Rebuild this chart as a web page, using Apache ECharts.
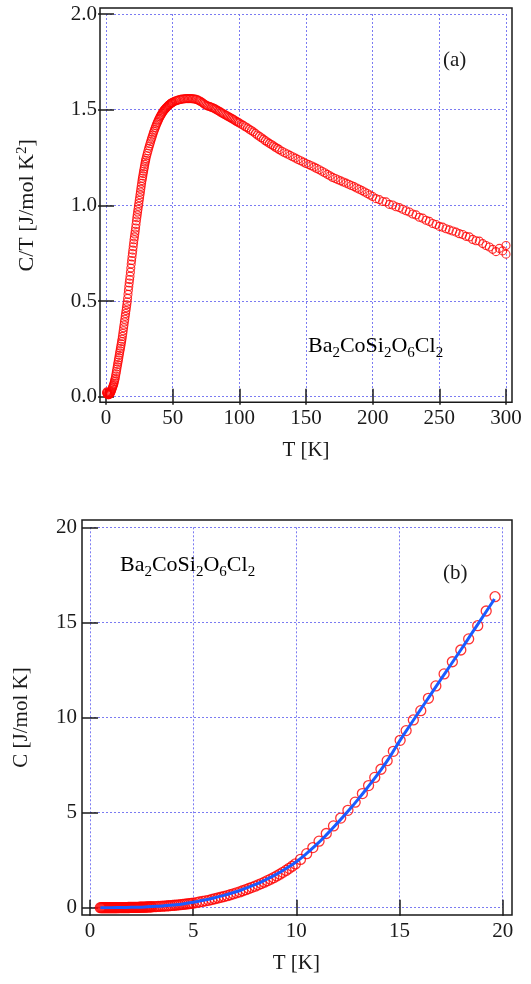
<!DOCTYPE html>
<html>
<head>
<meta charset="utf-8">
<title>Ba2CoSi2O6Cl2 specific heat</title>
<script src="https://cdn.jsdelivr.net/npm/echarts@6/dist/echarts.min.js"></script>
<style>
  html, body { margin: 0; padding: 0; background: #fff; }
  #chart { width: 531px; height: 984px; }
</style>
</head>
<body>
<div id="chart"></div>
<script>
// (a) C/T versus T, 0 - 300 K
const tempA = [
  0.4, 0.6, 0.8, 1.0, 1.3, 1.6, 2.0, 2.4, 2.7,
  3.0, 3.3, 3.6, 3.9, 4.2, 4.5, 4.8, 5.1, 5.4, 5.7, 6.0, 6.3, 6.6, 6.9, 7.2, 7.5, 7.8, 8.1, 8.4, 8.7,
  9.0, 9.3, 9.6, 9.9, 10.2, 10.5, 10.8, 11.1, 11.4, 11.7, 12.0, 12.3, 12.6, 12.9, 13.2, 13.5, 13.8, 14.1, 14.4, 14.7,
  15.0, 15.3, 15.6, 15.9, 16.2, 16.5, 16.8, 17.1, 17.4, 17.7, 18.0, 18.3, 18.6, 18.9, 19.2, 19.5, 19.8, 20.1, 20.4, 20.7,
  21.0, 21.3, 21.6, 21.9, 22.2, 22.5, 22.8, 23.1, 23.4, 23.7, 24.0, 24.3, 24.6, 24.9, 25.2, 25.5, 25.8, 26.1, 26.4, 26.7,
  27.0, 27.3, 27.6, 27.9, 28.2, 28.5, 28.8, 29.1, 29.4, 29.7, 30.0,
  30.5, 31, 31.5, 32, 32.5, 33, 33.5, 34, 34.5, 35, 35.5, 36, 36.5, 37, 37.5, 38, 38.5, 39, 39.5, 40,
  40.5, 41, 41.5, 42, 42.5, 43, 43.5, 44, 44.5, 45, 45.5, 46, 46.5, 47, 47.5, 48, 48.5, 49, 49.5, 50,
  51, 52, 53, 54, 55, 56, 57, 58, 59, 60, 61, 62, 63, 64, 65, 66, 67, 68, 69, 70,
  71, 72, 73, 74, 75, 76, 77, 78, 79, 80, 81, 82, 83, 84, 85, 86, 87, 88, 89, 90,
  91, 92, 93, 94, 95, 96, 97, 98, 99, 100,
  101.5, 103, 104.5, 106, 107.5, 109, 110.5, 112, 113.5, 115, 116.5, 118, 119.5, 121, 122.5, 124, 125.5, 127, 128.5, 130,
  132, 134, 136, 138, 140, 142, 144, 146, 148, 150, 152, 154, 156, 158, 160, 162, 164, 166, 168, 170,
  172, 174, 176, 178, 180, 182, 184, 186, 188, 190, 192, 194, 196, 198, 200,
  202.5, 205, 207.5, 210, 212.5, 215, 217.5, 220, 222.5, 225, 227.5, 230, 232.5, 235, 237.5, 240, 242.5, 245, 247.5, 250,
  252.5, 255, 257.5, 260, 262.5, 265, 267.5, 270, 272.5, 275, 277.5, 280, 282.5, 285, 287.5, 290, 292.5, 295, 297.5, 300, 300
];
const ctA = [
  0.020, 0.025, 0.020, 0.015, 0.012, 0.010, 0.010, 0.012, 0.014,
  0.016, 0.019, 0.023, 0.028, 0.034, 0.040, 0.046, 0.052, 0.058, 0.064, 0.070, 0.079, 0.088, 0.097, 0.108, 0.120, 0.132, 0.144, 0.156, 0.168,
  0.180, 0.192, 0.204, 0.216, 0.228, 0.240, 0.252, 0.264, 0.276, 0.288, 0.300, 0.315, 0.330, 0.345, 0.360, 0.375, 0.390, 0.405, 0.420, 0.435,
  0.450, 0.465, 0.480, 0.495, 0.514, 0.535, 0.556, 0.576, 0.594, 0.612, 0.630, 0.651, 0.672, 0.693, 0.712, 0.730, 0.748, 0.766, 0.784, 0.802,
  0.820, 0.835, 0.850, 0.865, 0.882, 0.900, 0.918, 0.935, 0.950, 0.965, 0.980, 0.995, 1.010, 1.025, 1.040, 1.055, 1.070, 1.085, 1.100, 1.115,
  1.130, 1.142, 1.154, 1.166, 1.178, 1.190, 1.202, 1.214, 1.225, 1.235, 1.245,
  1.259, 1.272, 1.285, 1.298, 1.310, 1.322, 1.334, 1.345, 1.356, 1.367, 1.378, 1.388, 1.398, 1.407, 1.416, 1.425, 1.433, 1.441, 1.449, 1.456,
  1.463, 1.469, 1.475, 1.481, 1.487, 1.492, 1.497, 1.501, 1.505, 1.509, 1.513, 1.516, 1.520, 1.523, 1.526, 1.529, 1.532, 1.534, 1.536, 1.538,
  1.542, 1.545, 1.548, 1.550, 1.552, 1.554, 1.555, 1.556, 1.557, 1.558, 1.558, 1.558, 1.558, 1.558, 1.557, 1.556, 1.555, 1.553, 1.550, 1.547,
  1.543, 1.538, 1.533, 1.528, 1.523, 1.520, 1.518, 1.516, 1.513, 1.510, 1.507, 1.503, 1.499, 1.495, 1.491, 1.487, 1.483, 1.479, 1.475, 1.471,
  1.467, 1.463, 1.459, 1.455, 1.451, 1.447, 1.442, 1.438, 1.434, 1.430,
  1.424, 1.418, 1.411, 1.405, 1.398, 1.391, 1.384, 1.376, 1.368, 1.361, 1.353, 1.346, 1.338, 1.331, 1.324, 1.318, 1.311, 1.304, 1.298, 1.291,
  1.283, 1.275, 1.268, 1.261, 1.254, 1.247, 1.240, 1.233, 1.226, 1.219, 1.213, 1.207, 1.200, 1.193, 1.186, 1.178, 1.170, 1.162, 1.154, 1.146,
  1.140, 1.134, 1.128, 1.122, 1.116, 1.110, 1.104, 1.098, 1.091, 1.084, 1.077, 1.070, 1.062, 1.054, 1.046,
  1.035, 1.030, 1.020, 1.018, 1.005, 1.002, 0.993, 0.988, 0.980, 0.972, 0.965, 0.955, 0.950, 0.938, 0.933, 0.922, 0.916, 0.905, 0.900, 0.890,
  0.886, 0.878, 0.872, 0.866, 0.860, 0.852, 0.848, 0.838, 0.835, 0.822, 0.815, 0.813, 0.800, 0.790, 0.782, 0.770, 0.758, 0.775, 0.762, 0.745, 0.790
];

// (b) C versus T below 20 K: measured points and fitted curve
const tempB = [
  0.50, 0.55, 0.60, 0.65, 0.70, 0.75, 0.80, 0.85, 0.90, 0.95, 1.00, 1.05, 1.10, 1.15, 1.20, 1.25, 1.30, 1.35, 1.40, 1.45,
  1.50, 1.55, 1.60, 1.65, 1.70, 1.75, 1.80, 1.85, 1.90, 1.95, 2.00, 2.05, 2.10, 2.15, 2.20, 2.25, 2.30, 2.35, 2.40, 2.45,
  2.50, 2.55, 2.60, 2.65, 2.70, 2.75, 2.80, 2.85, 2.90, 2.95, 3.00,
  3.10, 3.20, 3.30, 3.40, 3.50, 3.60, 3.70, 3.80, 3.90, 4.00, 4.10, 4.20, 4.30, 4.40, 4.50, 4.60, 4.70, 4.80, 4.90,
  5.0, 5.15, 5.3, 5.45, 5.6, 5.75, 5.9, 6.05, 6.2, 6.35, 6.5, 6.65, 6.8, 6.95, 7.1, 7.25, 7.4, 7.55, 7.7, 7.85,
  8.0, 8.15, 8.3, 8.45, 8.6, 8.75, 8.9, 9.05, 9.2, 9.35, 9.5, 9.65, 9.8, 9.95,
  10.2, 10.5, 10.8, 11.1, 11.45, 11.8, 12.15, 12.5, 12.85, 13.2, 13.5, 13.8, 14.1, 14.4, 14.7, 15.03,
  15.32, 15.67, 16.03, 16.40, 16.76, 17.16, 17.56, 17.97, 18.35, 18.79, 19.20, 19.63
];
const heatB = [
  0.000, 0.000, 0.000, 0.000, 0.000, 0.000, 0.000, 0.000, 0.000, 0.000, 0.001, 0.001, 0.001, 0.002, 0.002, 0.002, 0.003, 0.003, 0.004, 0.004,
  0.005, 0.005, 0.006, 0.007, 0.008, 0.008, 0.009, 0.010, 0.011, 0.012, 0.013, 0.014, 0.015, 0.016, 0.018, 0.019, 0.020, 0.022, 0.024, 0.025,
  0.027, 0.029, 0.031, 0.033, 0.035, 0.037, 0.040, 0.042, 0.045, 0.047, 0.050,
  0.055, 0.061, 0.067, 0.073, 0.080, 0.087, 0.095, 0.103, 0.111, 0.120, 0.130, 0.140, 0.150, 0.161, 0.173, 0.185, 0.198, 0.211, 0.225,
  0.240, 0.27, 0.30, 0.33, 0.36, 0.39, 0.43, 0.47, 0.51, 0.55, 0.59, 0.63, 0.68, 0.73, 0.78, 0.83, 0.89, 0.95, 1.01, 1.07,
  1.13, 1.20, 1.27, 1.34, 1.42, 1.50, 1.58, 1.67, 1.76, 1.86, 1.96, 2.07, 2.18, 2.30,
  2.54, 2.84, 3.16, 3.50, 3.90, 4.30, 4.71, 5.12, 5.55, 6.00, 6.42, 6.85, 7.28, 7.73, 8.22, 8.80,
  9.31, 9.87, 10.36, 11.01, 11.66, 12.29, 12.93, 13.55, 14.13, 14.83, 15.60, 16.35
];
const fitT = [0.5, 1, 1.5, 2, 2.5, 3, 3.5, 4, 4.5, 5, 5.5, 6, 6.5, 7, 7.5, 8, 8.5, 9, 9.5, 10,
  10.5, 11, 11.5, 12, 12.5, 13, 13.5, 14, 14.5, 15, 15.5, 16, 16.5, 17, 17.5, 18, 18.5, 19, 19.5, 19.6];
const fitC = [0.00, 0.00, 0.01, 0.02, 0.03, 0.06, 0.09, 0.14, 0.20, 0.29, 0.39, 0.51, 0.65, 0.81, 1.00, 1.21, 1.46, 1.74, 2.06, 2.42,
  2.86, 3.34, 3.88, 4.46, 5.07, 5.71, 6.39, 7.10, 7.88, 8.76, 9.58, 10.39, 11.19, 12.00, 12.80, 13.60, 14.42, 15.24, 16.06, 16.23];

const ticksA = { xMin: 0, xMax: 300, xStep: 50, yMin: 0, yMax: 2, yStep: 0.5 };
const ticksB = { xMin: 0, xMax: 20, xStep: 5, yMin: 0, yMax: 20, yStep: 5 };

const pairs = (xs, ys) => xs.map((x, i) => [x, ys[i]]);

const FONT = 'Liberation Serif';
const INK = '#1a1a1a';
const FS = 21;
const GRID_LINE = { show: true, lineStyle: { color: '#7b7bf2', width: 1, type: [2, 2] } };
const TICK = { show: true, inside: true, length: 8, lineStyle: { color: INK, width: 1.5 } };

function axisPair(gridIndex, t, which, offset, extra) {
  const isX = which === 'x';
  const main = Object.assign({
    gridIndex,
    type: 'value',
    min: isX ? t.xMin : t.yMin,
    max: isX ? t.xMax : t.yMax,
    interval: isX ? t.xStep : t.yStep,
    position: isX ? 'bottom' : 'left',
    offset,
    axisLine: { show: false },
    axisTick: TICK,
    splitLine: GRID_LINE,
    axisLabel: { color: INK, fontFamily: FONT, fontSize: FS },
    nameTextStyle: { color: INK, fontFamily: FONT, fontSize: FS }
  }, extra);
  const mirror = {
    gridIndex,
    type: 'value',
    min: main.min, max: main.max, interval: main.interval,
    position: isX ? 'top' : 'right',
    offset,
    axisLine: { show: false },
    axisTick: TICK,
    splitLine: { show: false },
    axisLabel: { show: false }
  };
  return [main, mirror];
}

const chart = echarts.init(document.getElementById('chart'), null, { renderer: 'canvas' });

const gridA = { left: 106, top: 14, width: 400, height: 382.7 };
const gridB = { left: 90, top: 527.3, width: 412.7, height: 380.4 };

const xA = axisPair(0, ticksA, 'x', 5.6, {
  name: 'T [K]', nameLocation: 'middle', nameGap: 38,
  axisLabel: { color: INK, fontFamily: FONT, fontSize: FS, margin: 6 }
});
const yA = axisPair(0, ticksA, 'y', 6, {
  name: '{n|C/T [J/mol K}{s|2}{n|]}', nameLocation: 'middle', nameGap: 60, nameRotate: 90,
  nameTextStyle: { rich: {
    n: { fontFamily: FONT, fontSize: 22, color: INK },
    s: { fontFamily: FONT, fontSize: 15, color: INK, verticalAlign: 'top', padding: [0, 0, 10, 0] }
  } },
  axisLabel: { color: INK, fontFamily: FONT, fontSize: FS, margin: 3, formatter: v => v.toFixed(1) }
});
const xB = axisPair(1, ticksB, 'x', 7.3, {
  name: 'T [K]', nameLocation: 'middle', nameGap: 38,
  axisLabel: { color: INK, fontFamily: FONT, fontSize: FS, margin: 6 }
});
const yB = axisPair(1, ticksB, 'y', 8, {
  name: 'C [J/mol K]', nameLocation: 'middle', nameGap: 50, nameRotate: 90,
  axisLabel: { color: INK, fontFamily: FONT, fontSize: FS, margin: 5 }
});

// chemical formula with lowered subscripts
function formula(left, top) {
  return {
    type: 'text', left, top, z: 10,
    style: {
      text: '{m|Ba}{s|2}{m|CoSi}{s|2}{m|O}{s|6}{m|Cl}{s|2}',
      rich: {
        m: { fontFamily: FONT, fontSize: 22, color: INK, verticalAlign: 'top' },
        s: { fontFamily: FONT, fontSize: 15, color: INK, verticalAlign: 'top', padding: [11, 0, 0, 0] }
      }
    }
  };
}

chart.setOption({
  animation: false,
  backgroundColor: '#ffffff',
  grid: [gridA, gridB],
  xAxis: [xA[0], xA[1], xB[0], xB[1]],
  yAxis: [yA[0], yA[1], yB[0], yB[1]],
  series: [
    {
      type: 'scatter', xAxisIndex: 0, yAxisIndex: 0,
      data: pairs(tempA, ctA),
      symbol: 'circle', symbolSize: 8,
      itemStyle: { color: 'rgba(0,0,0,0)', borderColor: '#ff0000', borderWidth: 1.1 }
    },
    {
      type: 'scatter', xAxisIndex: 2, yAxisIndex: 2,
      data: pairs(tempB, heatB),
      symbol: 'circle', symbolSize: 10,
      itemStyle: { color: 'rgba(0,0,0,0)', borderColor: '#ff0000', borderWidth: 1.3 }
    },
    {
      type: 'line', xAxisIndex: 2, yAxisIndex: 2,
      data: pairs(fitT, fitC),
      showSymbol: false, smooth: true, z: 5,
      lineStyle: { color: '#1a5cff', width: 3 }
    }
  ],
  graphic: [
    { type: 'rect', z: 20, silent: true, shape: { x: 100, y: 8, width: 412, height: 394.3 },
      style: { fill: 'none', stroke: INK, lineWidth: 1.5 } },
    { type: 'rect', z: 20, silent: true, shape: { x: 82, y: 520, width: 430, height: 395 },
      style: { fill: 'none', stroke: INK, lineWidth: 1.5 } },
    { type: 'text', left: 443, top: 50, z: 10,
      style: { text: '(a)', fontFamily: FONT, fontSize: 21, fill: INK } },
    { type: 'text', left: 443, top: 563, z: 10,
      style: { text: '(b)', fontFamily: FONT, fontSize: 21, fill: INK } },
    formula(308, 335),
    formula(120, 554)
  ]
});
</script>
</body>
</html>
